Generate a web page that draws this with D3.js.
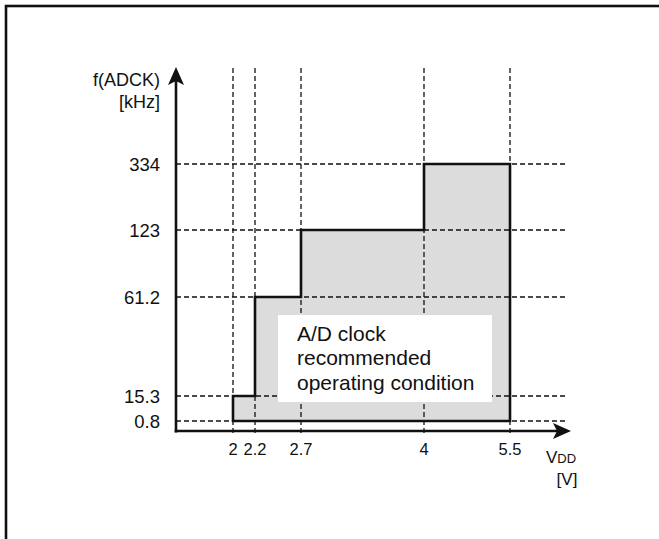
<!DOCTYPE html>
<html><head><meta charset="utf-8">
<script src="https://cdn.jsdelivr.net/npm/d3@7"></script>
<style>
html,body{margin:0;padding:0;background:#fff;}
svg{display:block;}
text{font-family:"Liberation Sans",Arial,Helvetica,sans-serif;fill:#111;}
.narrow{font-family:"Liberation Sans Narrow","Arial Narrow","Liberation Sans",sans-serif;}
</style>
</head><body>
<svg id="chart" width="659" height="539"></svg>
<script>
// ---- data ----
const voltageTicks = [2, 2.2, 2.7, 4, 5.5];
const freqTicks = [0.8, 15.3, 61.2, 123, 334];
const voltageTickLabels = ["2", "2.2", "2.7", "4", "5.5"];
const freqTickLabels = ["0.8", "15.3", "61.2", "123", "334"];
const stepFrom = [2, 2.2, 2.7, 4];
const stepTo = [2.2, 2.7, 4, 5.5];
const stepFreq = [15.3, 61.2, 123, 334];
const floorFreq = 0.8;
const yTitle = ["f(ADCK)", "[kHz]"];
const boxLines = ["A/D clock", "recommended", "operating condition"];

// ---- layout (schematic, non-uniform axes) ----
const xStops = [233, 255, 301, 424, 510];
const yStops = [421, 396, 297, 230, 164];
const axisX = 176, axisY = 431;
const gridTop = 68, gridBottom = 434, gridRight = 567;
const arrowTipY = 67, arrowTipX = 571;

const x = d3.scaleLinear().domain(voltageTicks).range(xStops);
const y = d3.scaleLinear().domain(freqTicks).range(yStops);

const svg = d3.select("#chart");

// outer frame (extends beyond the window on right/bottom)
svg.append("rect").attr("x", 6).attr("y", 6).attr("width", 700).attr("height", 600)
  .attr("fill", "none").attr("stroke", "#111").attr("stroke-width", 2.6);

// step region polygon
const pts = [[x(stepFrom[0]), y(floorFreq)]];
stepFrom.forEach((v, i) => {
  pts.push([x(v), y(stepFreq[i])]);
  pts.push([x(stepTo[i]), y(stepFreq[i])]);
});
pts.push([x(stepTo[stepTo.length - 1]), y(floorFreq)]);
const line = d3.line();
svg.append("path").attr("d", line(pts) + "Z").attr("fill", "#dcdcdc").attr("stroke", "none");

// dashed grid
const dash = "5,3";
svg.append("g").selectAll("line").data(voltageTicks).join("line")
  .attr("x1", d => x(d)).attr("x2", d => x(d))
  .attr("y1", gridTop).attr("y2", gridBottom)
  .attr("stroke", "#111").attr("stroke-width", 1.3).attr("stroke-dasharray", dash);
svg.append("g").selectAll("line").data(freqTicks).join("line")
  .attr("x1", axisX).attr("x2", gridRight)
  .attr("y1", d => y(d)).attr("y2", d => y(d))
  .attr("stroke", "#111").attr("stroke-width", 1.3).attr("stroke-dasharray", dash);

// white text box
svg.append("rect").attr("x", 278).attr("y", 315).attr("width", 214).attr("height", 87).attr("fill", "#fff");
svg.append("g").selectAll("text").data(boxLines).join("text")
  .attr("x", 297).attr("y", (d, i) => 341 + i * 24.3)
  .attr("font-size", 21).text(d => d);

// step outline
svg.append("path").attr("d", line(pts) + "Z").attr("fill", "none")
  .attr("stroke", "#111").attr("stroke-width", 2.6).attr("stroke-linejoin", "miter");

// axes
svg.append("line").attr("x1", axisX).attr("x2", axisX).attr("y1", axisY + 1.5).attr("y2", arrowTipY + 10)
  .attr("stroke", "#111").attr("stroke-width", 2.6);
svg.append("line").attr("x1", axisX - 1.3).attr("x2", arrowTipX - 10).attr("y1", axisY).attr("y2", axisY)
  .attr("stroke", "#111").attr("stroke-width", 2.6);
// arrow heads
svg.append("path")
  .attr("d", `M${axisX},${arrowTipY} L${axisX + 8},${arrowTipY + 18} L${axisX},${arrowTipY + 14} L${axisX - 8},${arrowTipY + 18} Z`)
  .attr("fill", "#111");
svg.append("path")
  .attr("d", `M${arrowTipX},${axisY} L${arrowTipX - 18},${axisY - 8} L${arrowTipX - 14},${axisY} L${arrowTipX - 18},${axisY + 8} Z`)
  .attr("fill", "#111");

// y tick labels
svg.append("g").selectAll("text").data(freqTicks).join("text")
  .attr("x", 160).attr("y", d => y(d)).attr("dy", "0.4em")
  .attr("text-anchor", "end").attr("font-size", 18.5)
  .text((d, i) => freqTickLabels[i]);
// y title
svg.append("g").selectAll("text").data(yTitle).join("text")
  .attr("x", 160).attr("y", (d, i) => 86 + i * 21.5)
  .attr("text-anchor", "end").attr("font-size", 18).text(d => d);

// x tick labels
svg.append("g").selectAll("text").data(voltageTicks).join("text")
  .attr("class", "narrow")
  .attr("x", d => x(d)).attr("y", 455)
  .attr("text-anchor", "middle").attr("font-size", 16.5)
  .text((d, i) => voltageTickLabels[i]);

// x title
const vt = svg.append("text").attr("class", "narrow").attr("x", 546).attr("y", 463).attr("font-size", 17);
vt.append("tspan").text("V");
vt.append("tspan").attr("font-size", 13).text("DD");
svg.append("text").attr("class", "narrow").attr("x", 567).attr("y", 485)
  .attr("text-anchor", "middle").attr("font-size", 17).text("[V]");
</script>
</body></html>
